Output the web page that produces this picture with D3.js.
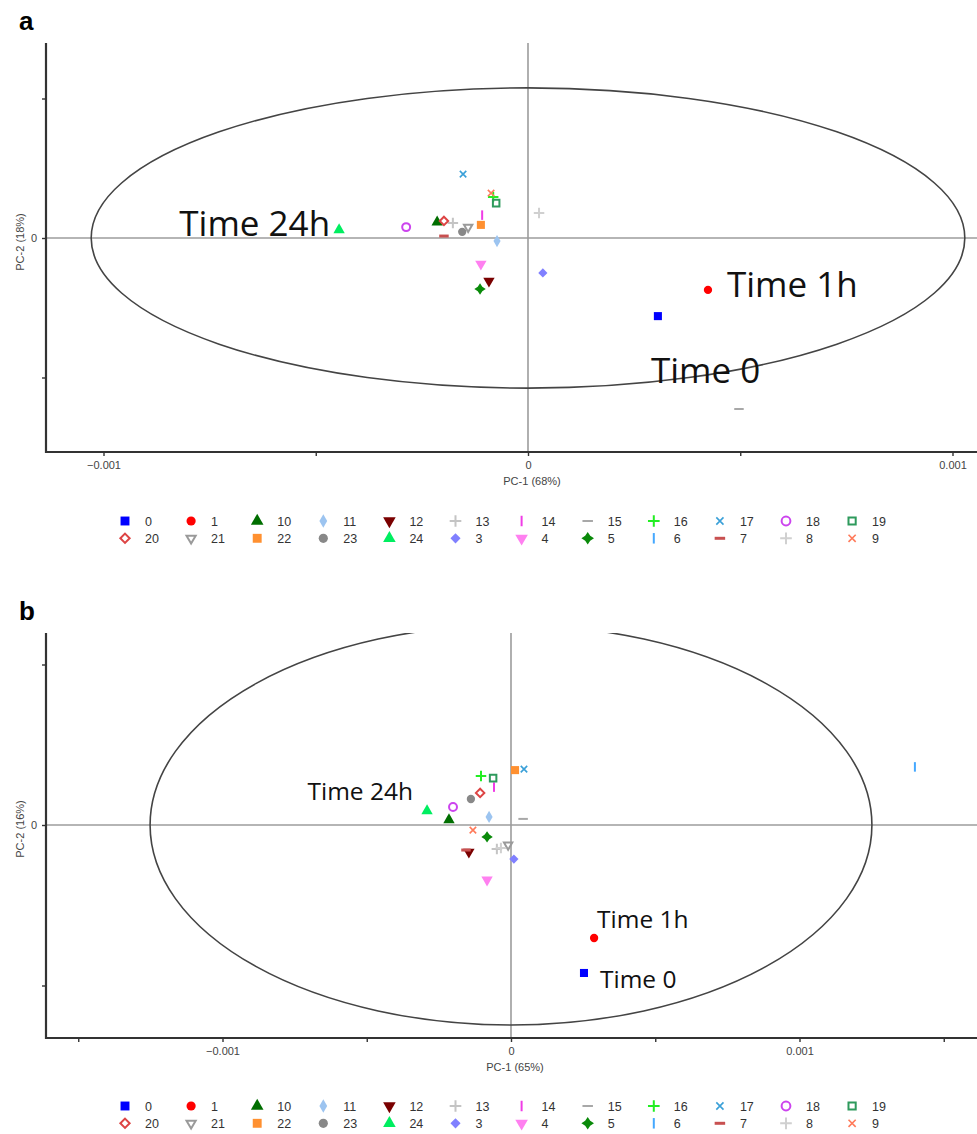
<!DOCTYPE html>
<html>
<head>
<meta charset="utf-8">
<script src="https://cdn.jsdelivr.net/npm/d3@7"></script>
<style>
  html, body { margin: 0; padding: 0; background: #fff; }
  svg { display: block; }
  .tick text, .axlab, .leg { font-family: "Liberation Sans Narrow", "Arial Narrow", "Liberation Sans", sans-serif; font-stretch: condensed; fill: #444; }
  .ann { font-family: "Open Sans", "Noto Sans", sans-serif; fill: #111; }
  .panel-letter { font-family: "Liberation Sans", Arial, sans-serif; font-weight: bold; font-size: 26px; fill: #000; }
</style>
</head>
<body>
<div id="chart"></div>
<script>
// PCA score plots (PC-1 vs PC-2) for sampling times 0..24 h, two panels.

const samples = ['0', '1', '10', '11', '12', '13', '14', '15', '16', '17', '18', '19',
                 '20', '21', '22', '23', '24', '3', '4', '5', '6', '7', '8', '9'];

// panel a scores (null = not visible on the plot)
const pc1A = [3.06e-4, 4.24e-4, -2.14e-4, -0.73e-4, -0.92e-4, -1.77e-4, -1.08e-4, 4.97e-4, -0.82e-4, -1.53e-4, -2.87e-4, -0.75e-4,
              -1.98e-4, -1.41e-4, -1.11e-4, -1.55e-4, -4.45e-4, 0.35e-4, -1.11e-4, -1.13e-4, null, -1.98e-4, 0.26e-4, -0.87e-4];
const pc2A = [-2.80e-4, -1.86e-4, 0.57e-4, -0.11e-4, -1.54e-4, 0.54e-4, 0.82e-4, -6.13e-4, 1.47e-4, 2.29e-4, 0.39e-4, 1.25e-4,
              0.61e-4, 0.39e-4, 0.47e-4, 0.22e-4, 0.29e-4, -1.25e-4, -0.93e-4, -1.83e-4, null, 0.07e-4, 0.90e-4, 1.61e-4];

// panel b scores
const pc1B = [2.53e-4, 2.88e-4, -2.15e-4, -0.76e-4, -1.46e-4, -0.49e-4, -0.59e-4, 0.42e-4, -1.04e-4, 0.45e-4, -2.01e-4, -0.62e-4,
              -1.07e-4, -0.10e-4, 0.14e-4, -1.39e-4, -2.91e-4, 0.10e-4, -0.83e-4, -0.83e-4, 14.0e-4, -1.56e-4, -0.35e-4, -1.32e-4];
const pc2B = [-4.61e-4, -3.52e-4, 0.16e-4, 0.25e-4, -0.84e-4, -0.75e-4, 1.18e-4, 0.19e-4, 1.53e-4, 1.74e-4, 0.56e-4, 1.46e-4,
              1.00e-4, -0.62e-4, 1.71e-4, 0.81e-4, 0.44e-4, -1.06e-4, -1.71e-4, -0.37e-4, 1.81e-4, -0.78e-4, -0.72e-4, -0.16e-4];

// Hotelling ellipse semi-axes
const ellipseA = [1.029e-3, 0.538e-3];
const ellipseB = [1.251e-3, 0.623e-3];

const xTicksA = [-0.001, -0.0005, 0, 0.0005, 0.001];
const xTicksB = [-0.0015, -0.001, -0.0005, 0, 0.0005, 0.001, 0.0015];
const yTicks = [-0.0005, 0, 0.0005];
const labelledTicks = [-0.001, 0, 0.001];

const annotA = [{ id: '24', text: 'Time 24h' }, { id: '1', text: 'Time 1h' }, { id: '0', text: 'Time 0' }];
const annotB = [{ id: '24', text: 'Time 24h' }, { id: '1', text: 'Time 1h' }, { id: '0', text: 'Time 0' }];

// marker styles per sample
const style = {
  '0':  { shape: 'square', color: '#0000ff', fill: true },
  '1':  { shape: 'circle', color: '#ff0000', fill: true },
  '10': { shape: 'triangle', color: '#006e00', fill: true },
  '11': { shape: 'diamond', color: '#9cc4f0', fill: true },
  '12': { shape: 'triangleDown', color: '#7a0000', fill: true },
  '13': { shape: 'plus', color: '#c4c4c4' },
  '14': { shape: 'vbar', color: '#f03ce6' },
  '15': { shape: 'dash', color: '#a8a8a8' },
  '16': { shape: 'plus', color: '#22ee22' },
  '17': { shape: 'times', color: '#3aa0d8' },
  '18': { shape: 'circleOpen', color: '#cc44ee' },
  '19': { shape: 'squareOpen', color: '#2e9a5c' },
  '20': { shape: 'diamondOpen', color: '#dd4444' },
  '21': { shape: 'triangleDownOpen', color: '#9a9a9a' },
  '22': { shape: 'square', color: '#ff9030', fill: true },
  '23': { shape: 'circle', color: '#888888', fill: true },
  '24': { shape: 'triangle', color: '#00ee60', fill: true },
  '3':  { shape: 'diamondWide', color: '#8080ff', fill: true },
  '4':  { shape: 'triangleDown', color: '#ff80f0', fill: true },
  '5':  { shape: 'star4', color: '#0a8a0a', fill: true },
  '6':  { shape: 'vbar', color: '#44a8ff' },
  '7':  { shape: 'dashThick', color: '#c85050' },
  '8':  { shape: 'plus', color: '#d0d0d0' },
  '9':  { shape: 'times', color: '#ff7a5a' }
};

function markerPath(shape, k) {
  const s = k || 1;
  switch (shape) {
    case 'square': return d3.symbol(d3.symbolSquare, 72 * s * s)();
    case 'squareOpen': return d3.symbol(d3.symbolSquare2, 60 * s * s)();
    case 'circle': return d3.symbol(d3.symbolCircle, 60 * s * s)();
    case 'circleOpen': return d3.symbol(d3.symbolCircle, 55 * s * s)();
    case 'triangle': case 'triangleDown': return d3.symbol(d3.symbolTriangle, 62 * s * s)();
    case 'triangleDownOpen': return d3.symbol(d3.symbolTriangle2, 55 * s * s)();
    case 'diamond': return d3.symbol(d3.symbolDiamond, 48 * s * s)();
    case 'diamondWide': return d3.symbol(d3.symbolDiamond2, 60 * s * s)();
    case 'diamondOpen': return d3.symbol(d3.symbolDiamond2, 50 * s * s)();
    case 'plus': return d3.symbol(d3.symbolPlus, 42 * s * s)();
    case 'times': return d3.symbol(d3.symbolTimes, 32 * s * s)();
    case 'vbar': return `M0,${-5 * s}L0,${5 * s}`;
    case 'dash': return `M${-5 * s},0L${5 * s},0`;
    case 'dashThick': return `M${-5 * s},0L${5 * s},0`;
    case 'star4': {
      const a = 6 * s, b = 2.4 * s;
      return `M0,${-a}L${b},${-b}L${a},0L${b},${b}L0,${a}L${-b},${b}L${-a},0L${-b},${-b}Z`;
    }
  }
}

function drawMarker(sel, id, k) {
  const st = style[id];
  const p = sel.append('path').attr('d', markerPath(st.shape, k));
  if (st.fill) p.attr('fill', st.color).attr('stroke', 'none');
  else p.attr('fill', 'none').attr('stroke', st.color)
        .attr('stroke-width', st.shape === 'dashThick' ? 3 : (st.shape === 'times' ? 1.6 : 2));
  if (st.shape === 'triangleDown' || st.shape === 'triangleDownOpen') p.attr('transform', 'rotate(180)');
  return p;
}

const W = 977, H = 1134;
const svg = d3.select('#chart').append('svg').attr('width', W).attr('height', H);

const fmt = (d) => labelledTicks.includes(d) ? (d === 0 ? '0' : d3.format('.3f')(d)) : '';

function panel(cfg) {
  const { frame, xRange, yRange, xs, ys, ell, xTicks, pc1Label, pc2Label, letter, annot, annSize, legendY } = cfg;
  const x = d3.scaleLinear().domain([-0.001, 0.001]).range(xRange);
  const y = d3.scaleLinear().domain([-0.0005, 0.0005]).range(yRange);
  const g = svg.append('g');

  const clipId = 'clip-' + letter;
  svg.append('clipPath').attr('id', clipId).append('rect')
    .attr('x', frame.left).attr('y', frame.top)
    .attr('width', frame.right - frame.left).attr('height', frame.bottom - frame.top);

  // zero lines
  g.append('line').attr('x1', frame.left).attr('x2', frame.right).attr('y1', y(0)).attr('y2', y(0))
    .attr('stroke', '#9c9c9c').attr('stroke-width', 1.6);
  g.append('line').attr('x1', x(0)).attr('x2', x(0)).attr('y1', frame.top).attr('y2', frame.bottom)
    .attr('stroke', '#9c9c9c').attr('stroke-width', 1.6);

  // ellipse
  g.append('ellipse').attr('clip-path', `url(#${clipId})`)
    .attr('cx', x(0)).attr('cy', y(0))
    .attr('rx', x(ell[0]) - x(0)).attr('ry', y(0) - y(ell[1]))
    .attr('fill', 'none').attr('stroke', '#444').attr('stroke-width', 1.6);

  // axes
  const ax = g.append('g').attr('transform', `translate(0,${frame.bottom})`)
    .call(d3.axisBottom(x).tickValues(xTicks).tickFormat(fmt).tickSize(4).tickPadding(5));
  const ay = g.append('g').attr('transform', `translate(${frame.left},0)`)
    .call(d3.axisLeft(y).tickValues(yTicks).tickFormat(fmt).tickSize(4).tickPadding(5));
  [ax, ay].forEach((a) => {
    a.select('.domain').remove();
    a.selectAll('.tick line').attr('stroke', '#333').attr('stroke-width', 1.4);
    a.selectAll('.tick text').style('font-size', '11px');
  });
  g.append('path')
    .attr('d', `M${frame.left},${frame.top}V${frame.bottom}H${frame.right}`)
    .attr('fill', 'none').attr('stroke', '#333').attr('stroke-width', 2.2);

  g.append('text').attr('class', 'axlab').attr('x', x(0) + 4).attr('y', frame.bottom + 33)
    .attr('text-anchor', 'middle').style('font-size', '11px').text(pc1Label);
  g.append('text').attr('class', 'axlab')
    .attr('transform', `translate(24,${y(0) + 4}) rotate(-90)`)
    .attr('text-anchor', 'middle').style('font-size', '11px').text(pc2Label);

  g.append('text').attr('class', 'panel-letter').attr('x', 19).attr('y', frame.top - 13).text(letter);

  // points
  const pts = samples.map((id, i) => ({ id, x: xs[i], y: ys[i] })).filter((d) => d.x !== null);
  const pg = g.append('g').attr('clip-path', `url(#${clipId})`);
  pts.forEach((d) => {
    const m = pg.append('g').attr('transform', `translate(${x(d.x)},${y(d.y)})`);
    drawMarker(m, d.id, 0.95);
  });

  // annotations
  annot.forEach((a) => {
    const i = samples.indexOf(a.id);
    g.append('text').attr('class', 'ann').style('font-size', annSize + 'px')
      .attr('x', x(xs[i]) + a.dx).attr('y', y(ys[i]) + a.dy)
      .attr('text-anchor', a.anchor).text(a.text);
  });

  // legend, two rows of twelve
  const lg = g.append('g');
  samples.forEach((id, i) => {
    const col = i % 12, row = Math.floor(i / 12);
    const cx = 125 + col * 66.1, cy = legendY + row * 17.3;
    const m = lg.append('g').attr('transform', `translate(${cx},${cy})`);
    drawMarker(m, id, 1.05);
    lg.append('text').attr('class', 'leg').attr('x', cx + 20).attr('y', cy + 4.5)
      .style('font-size', '12.5px').style('fill', '#333').text(id);
  });
}

panel({
  letter: 'a',
  frame: { left: 46, top: 43, right: 977, bottom: 452 },
  xRange: [103.5, 952.5], yRange: [377.5, 98.5],
  xs: pc1A, ys: pc2A, ell: ellipseA, xTicks: xTicksA,
  pc1Label: 'PC-1 (68%)', pc2Label: 'PC-2 (18%)',
  annSize: 35,
  annot: [
    { ...annotA[0], dx: -9, dy: 6, anchor: 'end' },
    { ...annotA[1], dx: 19, dy: 7, anchor: 'start' },
    { ...annotA[2], dx: -7, dy: 67, anchor: 'start' }
  ],
  legendY: 521
});

panel({
  letter: 'b',
  frame: { left: 46, top: 633, right: 977, bottom: 1038 },
  xRange: [222.5, 799.5], yRange: [985.5, 664.5],
  xs: pc1B, ys: pc2B, ell: ellipseB, xTicks: xTicksB,
  pc1Label: 'PC-1 (65%)', pc2Label: 'PC-2 (16%)',
  annSize: 24.5,
  annot: [
    { ...annotB[0], dx: -14, dy: -11, anchor: 'end' },
    { ...annotB[1], dx: 3, dy: -10, anchor: 'start' },
    { ...annotB[2], dx: 16, dy: 15, anchor: 'start' }
  ],
  legendY: 1106
});
</script>
</body>
</html>
